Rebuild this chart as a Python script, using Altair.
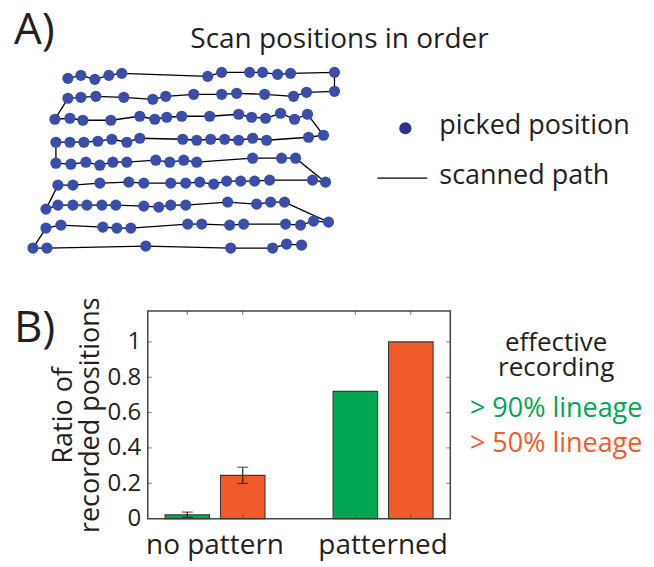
import altair as alt
import pandas as pd

FONT = "Open Sans"

# ---------------- Panel A data: picked positions, row by row in scan order ----------------
row_x = [
    [65, 78, 92, 106, 119, 205, 219, 247, 260, 275, 288, 332],
    [332, 304, 291, 262, 234, 219, 191, 163, 150, 121, 93, 78, 65],
    [52, 67, 80, 108, 137, 152, 164, 179, 207, 236, 249, 263, 278, 292, 305],
    [321, 306, 264, 250, 236, 222, 208, 194, 180, 137, 124, 109, 95, 81, 67, 53],
    [53, 68, 83, 97, 110, 124, 153, 167, 181, 194, 250, 279, 293],
    [323, 310, 267, 252, 238, 224, 211, 197, 183, 168, 141, 126, 97, 70, 55],
    [43, 55, 70, 84, 99, 113, 141, 156, 168, 183, 225, 254, 268, 282],
    [326, 311, 298, 283, 241, 227, 199, 185, 128, 114, 100, 58, 43],
    [30, 44, 143, 228, 270, 284, 299],
]
row_y = [
    [79, 76, 80, 76, 74, 77, 73, 73, 73, 75, 74, 73],
    [92, 93, 97, 95, 94, 95, 95, 97, 100, 98, 97, 98, 99],
    [120, 119, 121, 121, 117, 120, 118, 117, 117, 115, 118, 119, 114, 120, 115],
    [136, 138, 141, 139, 141, 140, 140, 141, 140, 139, 143, 140, 142, 143, 143, 143],
    [164, 165, 163, 166, 163, 163, 161, 163, 161, 163, 159, 159, 159],
    [183, 181, 181, 182, 182, 182, 185, 183, 184, 184, 184, 183, 184, 186, 186],
    [210, 206, 206, 206, 206, 206, 207, 208, 206, 206, 203, 205, 203, 203],
    [223, 222, 226, 225, 225, 226, 225, 225, 229, 229, 228, 226, 229],
    [249, 249, 247, 249, 249, 245, 246],
]

# ---------------- Panel B data ----------------
groups = ["no pattern", "patterned"]
series = ["> 90% lineage", "> 50% lineage"]
ratio_90 = [0.022, 0.72]
ratio_50 = [0.245, 1.0]
err_90 = [0.015, 0.0]
err_50 = [0.046, 0.0]
y_ticks = [0, 0.2, 0.4, 0.6, 0.8, 1.0]

GREEN = "#00A651"
ORANGE = "#F15A29"
BLUE = "#3A4DA8"
INK = "#231F20"

# ---------------- build tables ----------------
pts = []
k = 0
for xs, ys in zip(row_x, row_y):
    for x, y in zip(xs, ys):
        pts.append({"x": x, "y": y, "order": k})
        k += 1
dfA = pd.DataFrame(pts)

half_w = 0.1325
offs = [-0.165, 0.165]
rows = []
for gi, g in enumerate(groups):
    for si, (s, vals, errs) in enumerate(zip(series, [ratio_90, ratio_50], [err_90, err_50])):
        xc = gi + 1 + offs[si]
        rows.append({
            "group": g, "series": s, "value": vals[gi], "err": errs[gi],
            "xc": xc, "x0": xc - half_w, "x1": xc + half_w,
            "lo": vals[gi] - errs[gi], "hi": vals[gi] + errs[gi], "base": 0.0,
        })
dfB = pd.DataFrame(rows)
dfErr = dfB[dfB["err"] > 0]
dfG = pd.DataFrame({"group": groups, "gi": [1, 2]})
dfT = pd.DataFrame({"t": y_ticks})
dfInner = dfT[(dfT["t"] > 0)]

# ---------------- Panel A ----------------
xA = alt.X("x:Q", scale=alt.Scale(domain=[145, 340], nice=False, zero=False), axis=None)
yA = alt.Y("y:Q", scale=alt.Scale(domain=[65, 260], nice=False, zero=False, reverse=True), axis=None)

path = alt.Chart(dfA).mark_line(color="black", strokeWidth=1.3, clip=False).encode(
    x=xA, y=yA, order="order:Q")
dots = alt.Chart(dfA).mark_circle(size=125, color=BLUE, opacity=1, clip=False).encode(x=xA, y=yA)

one = pd.DataFrame({"a": [0]})
titleA = alt.Chart(one).mark_text(text="Scan positions in order", font=FONT, fontSize=28,
                                  align="center", baseline="alphabetic", color=INK).encode(
    x=alt.value(192), y=alt.value(-16))
labA = alt.Chart(one).mark_text(text="A)", font=FONT, fontSize=44, align="left",
                                baseline="alphabetic", color=INK).encode(
    x=alt.value(-134), y=alt.value(-20))
legDot = alt.Chart(one).mark_circle(size=150, color="#2E3192", opacity=1).encode(
    x=alt.value(258), y=alt.value(64))
legDotTxt = alt.Chart(one).mark_text(text="picked position", font=FONT, fontSize=27, align="left",
                                     baseline="middle", color=INK).encode(
    x=alt.value(292), y=alt.value(62))
legLine = alt.Chart(one).mark_rule(color="black", strokeWidth=1.2).encode(
    x=alt.value(230), x2=alt.value(280), y=alt.value(114))
legLineTxt = alt.Chart(one).mark_text(text="scanned path", font=FONT, fontSize=27, align="left",
                                      baseline="middle", color=INK).encode(
    x=alt.value(292), y=alt.value(112))

panelA = alt.layer(path, dots, titleA, labA, legDot, legDotTxt, legLine, legLineTxt).properties(
    width=195, height=195)

# ---------------- Panel B ----------------
xs_B = alt.Scale(domain=[0.6, 2.4], nice=False, zero=False)
ys_B = alt.Scale(domain=[0, 1.175], nice=False, zero=False)

bars = alt.Chart(dfB).mark_rect(stroke="#3a3a3a", strokeWidth=1.1).encode(
    x=alt.X("x0:Q", scale=xs_B, axis=None),
    x2="x1:Q",
    y=alt.Y("value:Q", scale=ys_B, axis=alt.Axis(
        values=y_ticks, format="~g", title=["Ratio of", "recorded positions"],
        titleFont=FONT, titleFontSize=27, titleFontWeight="normal", titleColor=INK,
        titlePadding=3, titleLineHeight=27,
        labelFont=FONT, labelFontSize=24, labelColor=INK, labelPadding=7,
        domain=False, ticks=False, grid=False)),
    y2="base:Q",
    color=alt.Color("series:N", scale=alt.Scale(domain=series, range=[GREEN, ORANGE]), legend=None),
)

err_rule = alt.Chart(dfErr).mark_rule(color=INK, strokeWidth=1.2).encode(
    x=alt.X("xc:Q", scale=xs_B), y=alt.Y("lo:Q", scale=ys_B), y2="hi:Q")
err_lo = alt.Chart(dfErr).mark_tick(orient="horizontal", size=11, thickness=1.2, color=INK).encode(
    x=alt.X("xc:Q", scale=xs_B), y=alt.Y("lo:Q", scale=ys_B))
err_hi = alt.Chart(dfErr).mark_tick(orient="horizontal", size=11, thickness=1.2, color=INK).encode(
    x=alt.X("xc:Q", scale=xs_B), y=alt.Y("hi:Q", scale=ys_B))

tick_l = alt.Chart(dfInner).mark_tick(orient="horizontal", size=4, thickness=1, color="#444").encode(
    x=alt.value(2), y=alt.Y("t:Q", scale=ys_B))
tick_r = alt.Chart(dfInner).mark_tick(orient="horizontal", size=4, thickness=1, color="#444").encode(
    x=alt.value(301), y=alt.Y("t:Q", scale=ys_B))
tick_t = alt.Chart(dfB).mark_tick(orient="vertical", size=4, thickness=1, color="#444").encode(
    x=alt.X("xc:Q", scale=xs_B), y=alt.value(2))
tick_b = alt.Chart(dfB).mark_tick(orient="vertical", size=4, thickness=1, color="#444").encode(
    x=alt.X("xc:Q", scale=xs_B), y=alt.value(206))

glabels = alt.Chart(dfG).mark_text(font=FONT, fontSize=28, baseline="alphabetic", color=INK).encode(
    x=alt.X("gi:Q", scale=xs_B), y=alt.value(243), text="group:N")

labB = alt.Chart(one).mark_text(text="B)", font=FONT, fontSize=44, align="left",
                                baseline="alphabetic", color=INK).encode(
    x=alt.value(-134), y=alt.value(31))
eff1 = alt.Chart(one).mark_text(text="effective", font=FONT, fontSize=26, align="center",
                                baseline="alphabetic", color=INK).encode(
    x=alt.value(409), y=alt.value(40))
eff2 = alt.Chart(one).mark_text(text="recording", font=FONT, fontSize=26, align="center",
                                baseline="alphabetic", color=INK).encode(
    x=alt.value(409), y=alt.value(65))
lin90 = alt.Chart(one).mark_text(text=series[0], font=FONT, fontSize=27, align="center",
                                 baseline="alphabetic", color=GREEN).encode(
    x=alt.value(409), y=alt.value(106))
lin50 = alt.Chart(one).mark_text(text=series[1], font=FONT, fontSize=27, align="center",
                                 baseline="alphabetic", color=ORANGE).encode(
    x=alt.value(409), y=alt.value(141))

panelB = alt.layer(bars, err_rule, err_lo, err_hi, tick_l, tick_r, tick_t, tick_b,
                   glabels, labB, eff1, eff2, lin90, lin50).properties(
    width=303, height=208,
    view=alt.ViewBackground(stroke="#444444", strokeWidth=1.5))

chart = alt.vconcat(panelA, panelB, spacing=52, bounds="flush").properties(
    padding={"left": 5, "top": 1, "right": 2, "bottom": 2}
).configure_view(strokeWidth=0)

chart.save("out.html", embed_options={"renderer": "svg", "actions": False})
